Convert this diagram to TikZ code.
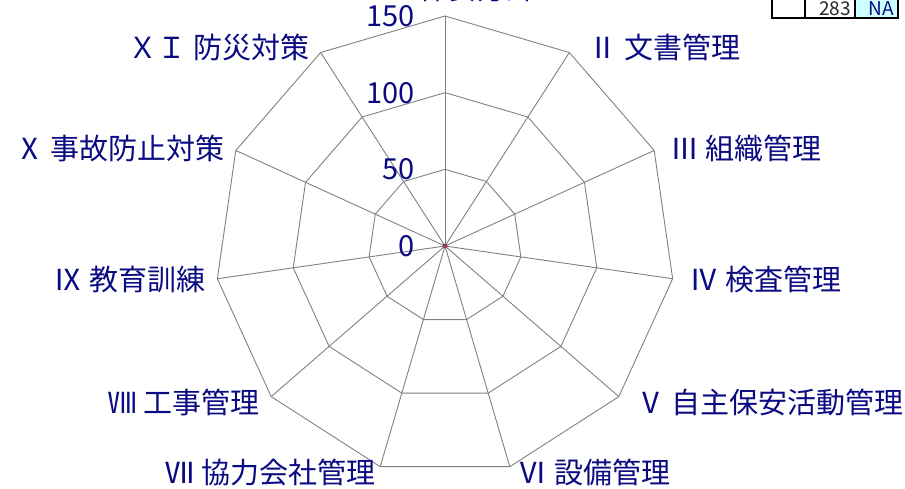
\documentclass[tikz,border=0pt]{standalone}
\usepackage{fontspec}
\setmainfont{Noto Sans CJK JP}
\usetikzlibrary{positioning,calc}
\definecolor{labelblue}{RGB}{10,10,130}
\definecolor{gridgray}{RGB}{128,128,128}
\definecolor{markred}{RGB}{150,60,90}
\definecolor{cellcyan}{RGB}{204,255,255}
\tikzset{
grid/.style = {draw=gridgray, line width=0.9pt},
axis/.style = {text=labelblue, font=\fontsize{29}{32}\selectfont, inner sep=0pt},
tick/.style = {text=labelblue, font=\fontsize{29}{32}\selectfont, inner sep=0pt},
cell/.style = {draw=black, line width=2.5pt},
celltext/.style = {text=black!85, font=\fontsize{19}{20}\selectfont, inner sep=0pt}
}

\begin{document}
\begin{tikzpicture}[x=1pt, y=1pt]
  \useasboundingbox (0,0) rectangle (905,488);
  \coordinate (c) at (445,242);

  % rings at 50, 100, 150
  \foreach \r in {1,2,3}{
    \foreach \k in {0,...,10}
      \coordinate (r\r-\k) at ($(c)+(90-\k*360/11:\r*230/3)$);
    \draw [grid] (r\r-0) \foreach \k in {1,...,10}{-- (r\r-\k)} -- cycle;
  }
  \foreach \k in {0,...,10}
    \draw [grid] (c) -- (r3-\k);

  % scale
  \node [tick, anchor=east] (t0)   at ($(c)+(-30,0)$)     {0};
  \node [tick, anchor=east] (t50)  at ($(r1-0)+(-30,0)$)  {50};
  \node [tick, anchor=east] (t100) at ($(r2-0)+(-30,0)$)  {100};
  \node [tick, anchor=east] (t150) at ($(r3-0)+(-30,0)$)  {150};

  % axis labels
  \node [axis, anchor=south] (l1)                           at ($(r3-0)+(15,14)$) {Ⅰ 保安方針};
  \node [axis, anchor=west, xshift=19pt, yshift=5pt]  (l2)  at (r3-1)  {Ⅱ 文書管理};
  \node [axis, anchor=west, xshift=16pt, yshift=2pt]  (l3)  at (r3-2)  {Ⅲ 組織管理};
  \node [axis, anchor=west, xshift=17pt, yshift=-1pt] (l4)  at (r3-3)  {Ⅳ 検査管理};
  \node [axis, anchor=west, xshift=17pt, yshift=-6pt] (l5)  at (r3-4)  {Ⅴ 自主保安活動管理};
  \node [axis, anchor=west, xshift=9pt,  yshift=-6pt] (l6)  at (r3-5)  {Ⅵ 設備管理};
  \node [axis, anchor=east, xshift=-5pt, yshift=-6pt] (l7)  at (r3-6)  {Ⅶ 協力会社管理};
  \node [axis, anchor=east, xshift=-11pt,yshift=-6pt] (l8)  at (r3-7)  {Ⅷ 工事管理};
  \node [axis, anchor=east, xshift=-12pt,yshift=-1pt] (l9)  at (r3-8)  {Ⅸ 教育訓練};
  \node [axis, anchor=east, xshift=-11pt,yshift=2pt]  (l10) at (r3-9)  {Ⅹ 事故防止対策};
  \node [axis, anchor=east, xshift=-11pt,yshift=5pt]  (l11) at (r3-10) {ＸＩ 防災対策};

  % data marker
  \fill [markred] (c) circle (2.5);

  % table corner
  \draw [cell, fill=white]    (772,470) rectangle (805,495);
  \draw [cell, fill=white]    (805,470) rectangle (855,495);
  \draw [cell, fill=cellcyan] (855,470) rectangle (898,495);
  \node [celltext, anchor=base east] (n283) at (851,472.5) {283};
  \node [celltext, anchor=base east, text=labelblue] (nna) at (894,472.5) {NA};
\end{tikzpicture}
\end{document}
